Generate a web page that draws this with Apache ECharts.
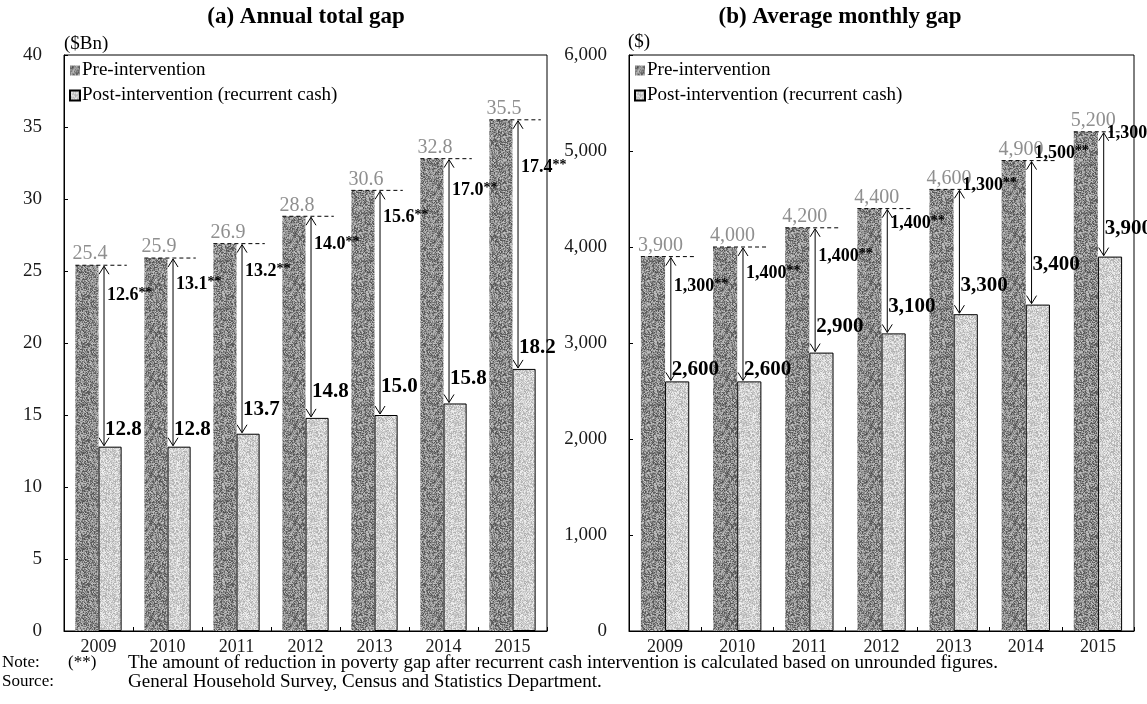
<!DOCTYPE html>
<html>
<head>
<meta charset="utf-8">
<script src="https://cdn.jsdelivr.net/npm/echarts@6/dist/echarts.min.js"></script>
<style>
  html, body { margin: 0; padding: 0; background: #fff; }
  #chart { width: 1147px; height: 704px; }
</style>
</head>
<body>
<div id="chart"></div>
<script>
// Poverty gap before and after recurrent cash intervention, 2009-2015
const years = ['2009', '2010', '2011', '2012', '2013', '2014', '2015'];

// (a) Annual total gap, $Bn
const annualPre  = [25.4, 25.9, 26.9, 28.8, 30.6, 32.8, 35.5];
const annualPost = [12.8, 12.8, 13.7, 14.8, 15.0, 15.8, 18.2];
const annualCut  = [12.6, 13.1, 13.2, 14.0, 15.6, 17.0, 17.4];

// (b) Average monthly gap, $
const monthlyPre  = [3900, 4000, 4200, 4400, 4600, 4900, 5200];
const monthlyPost = [2600, 2600, 2900, 3100, 3300, 3400, 3900];
const monthlyCut  = [1300, 1400, 1400, 1400, 1300, 1500, 1300];

// Axis ticks
const annualTicks  = { min: 0, max: 40, interval: 5 };
const monthlyTicks = { min: 0, max: 6000, interval: 1000 };

// Hand placement of the annotations (px): reduction label below the
// pre-intervention line, post-intervention label above its bar
const annualCutDy   = [30, 26, 28, 28, 27, 32, 48];
const monthlyCutDy  = [30, 26, 29, 15, -4, -7, 2];
const annualPostDy  = [17, 17, 24, 26, 28, 25, 21];
const monthlyPostDy = [12, 12, 26, 27, 29, 40, 28];

const SERIF = "'Liberation Serif', 'Times New Roman', serif";
const fmt1 = v => v.toFixed(1);
const fmtK = v => v.toLocaleString('en-US');

// Stippled fill resembling a printed grey screen
function stipple(base, amp, seed) {
  const n = 48;
  const c = document.createElement('canvas');
  c.width = c.height = n;
  const g = c.getContext('2d');
  const img = g.createImageData(n, n);
  for (let y = 0; y < n; y++) {
    for (let x = 0; x < n; x++) {
      let h = Math.imul(x + 1, 374761393) ^ Math.imul(y + 7, 668265263) ^ Math.imul(seed, 2246822519);
      h = Math.imul(h ^ (h >>> 13), 1274126177);
      h = (h ^ (h >>> 16)) >>> 0;
      let v = base + ((h & 127) - 64) * amp;
      v = Math.max(0, Math.min(255, v));
      const k = (y * n + x) * 4;
      img.data[k] = img.data[k + 1] = img.data[k + 2] = v;
      img.data[k + 3] = 255;
    }
  }
  g.putImageData(img, 0, 0);
  return { image: c, repeat: 'repeat' };
}
const darkFill = stipple(138, 0.95, 3);
const lightFill = stipple(208, 0.55, 11);

// Dashed reference line, double arrow and value labels for one year
function annotator(fmt, cutDy, postDy) {
  return function (params, api) {
    const i = api.value(0);
    const pre = api.value(1);
    const post = api.value(2);
    const cut = api.value(3);
    const pTop = api.coord([i, pre]);
    const pBot = api.coord([i, post]);
    const band = api.size([1, 0])[0];
    const cx = pTop[0];
    const ax = cx + band * 0.08;
    const left = cx - band * 0.335;
    const yT = pTop[1];
    const yB = pBot[1];
    const head = 8;
    const ink = { stroke: '#000', lineWidth: 1, fill: null };
    return {
      type: 'group',
      children: [
        { type: 'line', shape: { x1: left, y1: yT, x2: cx + band * 0.41, y2: yT },
          style: { stroke: '#000', lineWidth: 1, lineDash: [4, 3] } },
        { type: 'line', shape: { x1: ax, y1: yT + 1, x2: ax, y2: yB - 1 }, style: ink },
        { type: 'polyline', shape: { points: [[ax - 5, yT + head + 1], [ax, yT + 1], [ax + 5, yT + head + 1]] }, style: ink },
        { type: 'polyline', shape: { points: [[ax - 5, yB - head - 1], [ax, yB - 1], [ax + 5, yB - head - 1]] }, style: ink },
        { type: 'text', x: left - 3, y: yT - 1,
          style: { text: fmt(pre), fill: '#8f8f8f', font: '20px ' + SERIF, align: 'left', verticalAlign: 'bottom' } },
        { type: 'text', x: ax + 1, y: yB - postDy[i],
          style: { text: fmt(post), fill: '#000', font: 'bold 21px ' + SERIF, align: 'left', verticalAlign: 'middle' } },
        { type: 'text', x: ax + 3, y: yT + cutDy[i],
          style: {
            text: '{n|' + fmt(cut) + '}{s|**}', align: 'left', verticalAlign: 'middle',
            rich: {
              n: { font: 'bold 18px ' + SERIF, fill: '#000' },
              s: { font: 'bold 14px ' + SERIF, fill: '#000', verticalAlign: 'top', padding: [0, 0, 3, 0] }
            }
          } }
      ]
    };
  };
}

function yAxisFor(ticks, gridIndex, fmt) {
  return {
    type: 'value', gridIndex: gridIndex,
    min: ticks.min, max: ticks.max, interval: ticks.interval,
    axisLine: { show: true, lineStyle: { color: '#000', width: 1 } },
    axisTick: { show: true, inside: true, length: 4, lineStyle: { color: '#000' } },
    splitLine: { show: false },
    axisLabel: { color: '#1a1a1a', fontFamily: SERIF, fontSize: 19, margin: 22, formatter: fmt }
  };
}
function xAxisFor(gridIndex) {
  return {
    type: 'category', gridIndex: gridIndex, data: years,
    axisLine: { show: true, lineStyle: { color: '#000', width: 1 } },
    axisTick: { show: true, inside: true, length: 4, lineStyle: { color: '#000' } },
    axisLabel: { color: '#1a1a1a', fontFamily: SERIF, fontSize: 18, margin: 7 }
  };
}
function barsFor(pre, post, idx) {
  return [
    { name: 'Pre-intervention', type: 'bar', xAxisIndex: idx, yAxisIndex: idx, data: pre,
      barGap: '0%', barCategoryGap: '33%',
      itemStyle: { color: darkFill }, emphasis: { disabled: true } },
    { name: 'Post-intervention (recurrent cash)', type: 'bar', xAxisIndex: idx, yAxisIndex: idx, data: post,
      barGap: '0%', barCategoryGap: '33%',
      itemStyle: { color: lightFill, borderColor: '#000', borderWidth: 1 }, emphasis: { disabled: true } }
  ];
}
function notesFor(pre, post, cut, idx, fmt, cutDy, postDy) {
  return {
    type: 'custom', xAxisIndex: idx, yAxisIndex: idx, z: 10, clip: false, silent: true,
    data: years.map((_, i) => [i, pre[i], post[i], cut[i]]),
    encode: { x: 0, y: 1 },
    renderItem: annotator(fmt, cutDy, postDy)
  };
}
function legendAt(left) {
  return {
    left: left, top: 56, orient: 'vertical', itemWidth: 10, itemHeight: 10, itemGap: 6,
    icon: 'rect', selectedMode: false,
    textStyle: { color: '#000', fontFamily: SERIF, fontSize: 19, padding: [0, 0, 0, -3] },
    data: ['Pre-intervention', 'Post-intervention (recurrent cash)']
  };
}

const chart = echarts.init(document.getElementById('chart'), null, { renderer: 'canvas' });
chart.setOption({
  backgroundColor: '#fff',
  animation: false,
  grid: [
    { left: 64, right: 600, top: 55, bottom: 73, show: true, borderColor: '#000', borderWidth: 1, containLabel: false },
    { left: 629, right: 13, top: 55, bottom: 73, show: true, borderColor: '#000', borderWidth: 1, containLabel: false }
  ],
  xAxis: [xAxisFor(0), xAxisFor(1)],
  yAxis: [yAxisFor(annualTicks, 0, v => String(v)), yAxisFor(monthlyTicks, 1, v => fmtK(v))],
  legend: [legendAt(64), legendAt(629)],
  series: [
    ...barsFor(annualPre, annualPost, 0),
    ...barsFor(monthlyPre, monthlyPost, 1),
    notesFor(annualPre, annualPost, annualCut, 0, fmt1, annualCutDy, annualPostDy),
    notesFor(monthlyPre, monthlyPost, monthlyCut, 1, fmtK, monthlyCutDy, monthlyPostDy)
  ],
  graphic: [
    { type: 'text', x: 306, y: 17, style: { text: '(a) Annual total gap', font: 'bold 23px ' + SERIF, fill: '#000', align: 'center', verticalAlign: 'middle' } },
    { type: 'text', x: 840, y: 17, style: { text: '(b) Average monthly gap', font: 'bold 23px ' + SERIF, fill: '#000', align: 'center', verticalAlign: 'middle' } },
    { type: 'text', x: 64, y: 44, style: { text: '($Bn)', font: '19px ' + SERIF, fill: '#000', align: 'left', verticalAlign: 'middle' } },
    { type: 'text', x: 628, y: 42, style: { text: '($)', font: '19px ' + SERIF, fill: '#000', align: 'left', verticalAlign: 'middle' } },
    { type: 'text', x: 2, y: 663, style: { text: 'Note:', font: '17px ' + SERIF, fill: '#000', verticalAlign: 'middle' } },
    { type: 'text', x: 68, y: 663, style: { text: '(**)', font: '17px ' + SERIF, fill: '#000', verticalAlign: 'middle' } },
    { type: 'text', x: 128, y: 663, style: { text: 'The amount of reduction in poverty gap after recurrent cash intervention is calculated based on unrounded figures.', font: '19px ' + SERIF, fill: '#000', verticalAlign: 'middle' } },
    { type: 'text', x: 2, y: 682, style: { text: 'Source:', font: '17px ' + SERIF, fill: '#000', verticalAlign: 'middle' } },
    { type: 'text', x: 128, y: 682, style: { text: 'General Household Survey, Census and Statistics Department.', font: '19px ' + SERIF, fill: '#000', verticalAlign: 'middle' } }
  ]
});
</script>
</body>
</html>
